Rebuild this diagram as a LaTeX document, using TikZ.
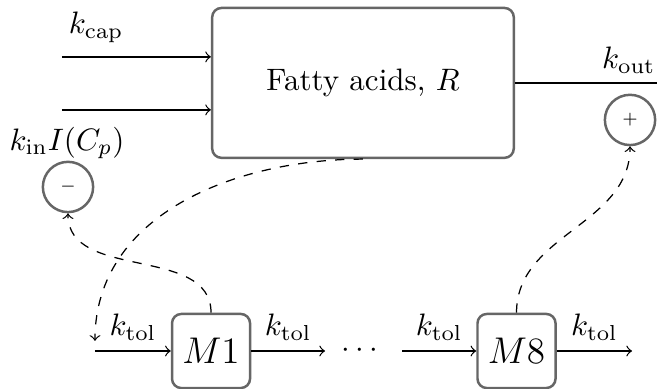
\documentclass[tikz,border=0pt]{standalone}
\usetikzlibrary{positioning}
\begin{document}
\begin{tikzpicture}[
  blockbox/.style={draw=black!60,thick,rounded corners=3pt,fill=white},
  signcirc/.style={circle,draw=black!60,thick,minimum size=0.57cm,inner sep=0pt,font=\tiny},
]
\useasboundingbox (0,0) rectangle (7.45,4.41);
% fatty acid pool
\node[blockbox,minimum width=3.42cm,minimum height=1.70cm] (R) at (4.116,3.470) {Fatty acids, $R$};
\coordinate (cap1) at (0.703,3.765);
\coordinate (cap2) at (0.703,3.164);
\draw[->] (cap1) -- (cap1 -| R.west);
\draw[->] (cap2) -- (cap2 -| R.west);
\node (kcap) at (1.09,4.10) {$k_{\mathrm{cap}}$};
\node (kin) at (0.76,2.79) {$k_{\mathrm{in}}I(C_p)$};
\coordinate (rout) at (7.45,3.470);
\draw (R.east) -- (rout);
\node (kout) at (7.13,3.73) {$k_{\mathrm{out}}$};
\node[signcirc] (minus) at (0.771,2.29) {$-$};
\node[signcirc] (plus) at (7.144,3.05) {$+$};

% transit compartments
\node[blockbox,minimum width=0.885cm,minimum height=0.84cm] (M1) at (2.393,0.43) {\large $M1$};
\node[blockbox,minimum width=0.885cm,minimum height=0.84cm] (M8) at (5.857,0.43) {\large $M8$};
\coordinate (in1) at (1.077,0.43);
\coordinate (out1) at (3.686,0.43);
\coordinate (in8) at (4.559,0.43);
\coordinate (out8) at (7.167,0.43);
\draw[->] (in1) -- node[above] (t1) {$k_{\mathrm{tol}}$} (M1);
\draw[->] (M1) -- node[above] (t2) {$k_{\mathrm{tol}}$} (out1);
\draw[->] (in8) -- node[above] (t3) {$k_{\mathrm{tol}}$} (M8);
\draw[->] (M8) -- node[above] (t4) {$k_{\mathrm{tol}}$} (out8);
\node (dots) at (4.08,0.43) {$\cdots$};

% feedback
\coordinate (fb) at (1.077,0.545);
\draw[dashed,->] (R.south) to[out=180,in=90] (fb);
\draw[dashed,->] (M1.north) to[out=90,in=-90] (minus.south);
\draw[dashed,->] (M8.north) to[out=90,in=-90] (plus.south);

\end{tikzpicture}
\end{document}
